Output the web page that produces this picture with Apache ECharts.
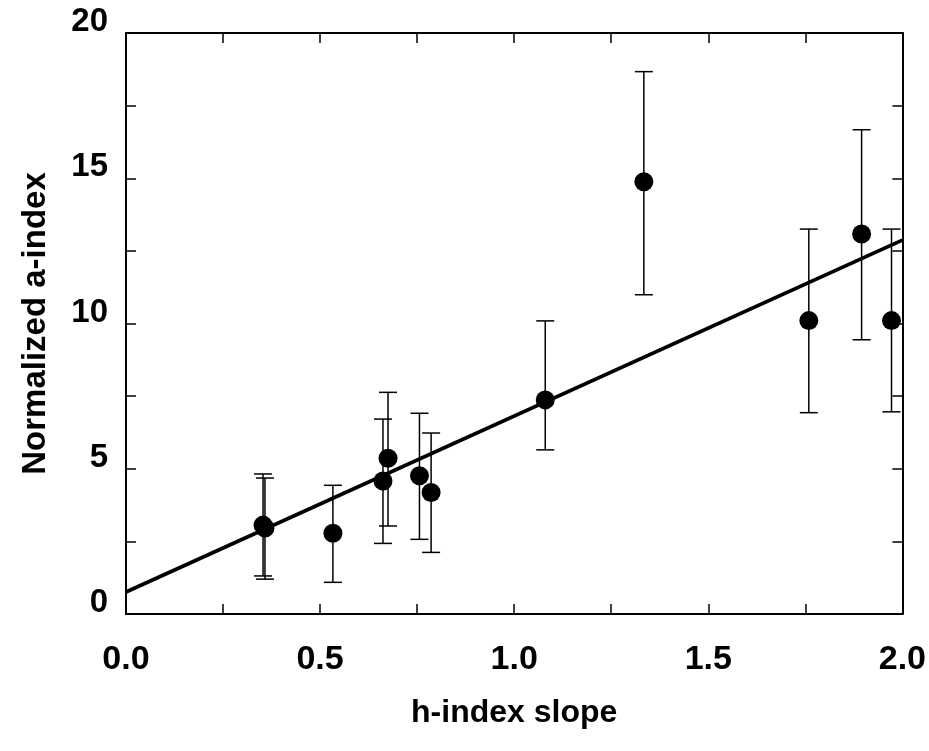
<!DOCTYPE html>
<html>
<head>
<meta charset="utf-8">
<script src="https://cdn.jsdelivr.net/npm/echarts@6/dist/echarts.min.js"></script>
<style>
html,body{margin:0;padding:0;background:#fff;}
#chart{width:929px;height:751px;}
</style>
</head>
<body>
<div id="chart"></div>
<script>
// Data
const xValues  = [0.353, 0.358, 0.533, 0.662, 0.675, 0.756, 0.786, 1.080, 1.334, 1.759, 1.895, 1.972];
const yValues  = [3.06, 2.96, 2.78, 4.58, 5.36, 4.76, 4.18, 7.37, 14.88, 10.10, 13.08, 10.10];
const errUpper = [4.82, 4.68, 4.43, 6.71, 7.63, 6.91, 6.23, 10.09, 18.67, 13.25, 16.67, 13.25];
const errLower = [1.31, 1.20, 1.09, 2.43, 3.03, 2.57, 2.12, 5.65, 10.99, 6.93, 9.44, 6.96];
const fitX = [0, 2];
const fitY = [0.76, 12.87];
const xTitle = 'h-index slope';
const yTitle = 'Normalized a-index';

const FONT = '"Liberation Sans", Arial, sans-serif';
const chart = echarts.init(document.getElementById('chart'), null, {renderer: 'canvas'});

const points = xValues.map((x, i) => [x, yValues[i]]);
const bars = xValues.map((x, i) => [x, errLower[i], errUpper[i]]);
const fitLine = fitX.map((x, i) => [x, fitY[i]]);

const axisLineStyle = {color: '#000', width: 2};
const tickStyle = {show: true, inside: true, length: 10, lineStyle: {color: '#000', width: 1.5}};

chart.setOption({
  animation: false,
  backgroundColor: '#fff',
  grid: {left: 126, right: 23, top: 33, bottom: 137, containLabel: false},
  xAxis: [{
    type: 'value', min: 0, max: 2, interval: 0.25,
    name: xTitle, nameLocation: 'middle', nameGap: 83,
    nameTextStyle: {fontFamily: FONT, fontWeight: 'bold', fontSize: 32, color: '#000', lineHeight: 32},
    axisLine: {show: true, onZero: false, lineStyle: axisLineStyle},
    axisTick: tickStyle,
    splitLine: {show: false},
    axisLabel: {
      margin: 29, fontFamily: FONT, fontWeight: 'bold', fontSize: 34, color: '#000', lineHeight: 34,
      formatter: v => (Math.abs(v * 2 - Math.round(v * 2)) < 1e-6 ? v.toFixed(1) : '')
    }
  }, {
    type: 'value', min: 0, max: 2, interval: 0.25, position: 'top',
    axisLine: {show: true, onZero: false, lineStyle: axisLineStyle},
    axisTick: tickStyle, axisLabel: {show: false}, splitLine: {show: false}
  }],
  yAxis: [{
    type: 'value', min: 0, max: 20, interval: 2.5,
    name: yTitle, nameLocation: 'middle', nameGap: 74, nameRotate: 90,
    nameTextStyle: {fontFamily: FONT, fontWeight: 'bold', fontSize: 33, color: '#000', lineHeight: 33},
    axisLine: {show: true, onZero: false, lineStyle: axisLineStyle},
    axisTick: tickStyle,
    splitLine: {show: false},
    axisLabel: {
      margin: 18, fontFamily: FONT, fontWeight: 'bold', fontSize: 33, color: '#000', lineHeight: 22,
      verticalAlign: 'bottom',
      formatter: v => (v % 5 === 0 ? String(v) : '')
    }
  }, {
    type: 'value', min: 0, max: 20, interval: 2.5, position: 'right',
    axisLine: {show: true, onZero: false, lineStyle: axisLineStyle},
    axisTick: tickStyle, axisLabel: {show: false}, splitLine: {show: false}
  }],
  series: [
    {
      type: 'line', data: fitLine, xAxisIndex: 0, yAxisIndex: 0,
      showSymbol: false, symbol: 'none',
      lineStyle: {color: '#000', width: 3.8}, z: 3, silent: true
    },
    {
      type: 'custom', data: bars, xAxisIndex: 0, yAxisIndex: 0, z: 2, silent: true,
      renderItem: function (params, api) {
        const x = api.value(0);
        const lo = api.coord([x, api.value(1)]);
        const hi = api.coord([x, api.value(2)]);
        const half = 9;
        const style = {stroke: '#000', lineWidth: 1.5, fill: null};
        return {
          type: 'group',
          children: [
            {type: 'line', shape: {x1: hi[0], y1: hi[1], x2: lo[0], y2: lo[1]}, style: style},
            {type: 'line', shape: {x1: hi[0] - half, y1: hi[1], x2: hi[0] + half, y2: hi[1]}, style: style},
            {type: 'line', shape: {x1: lo[0] - half, y1: lo[1], x2: lo[0] + half, y2: lo[1]}, style: style}
          ]
        };
      }
    },
    {
      type: 'scatter', data: points, xAxisIndex: 0, yAxisIndex: 0,
      symbol: 'circle', symbolSize: 19,
      itemStyle: {color: '#000', opacity: 1}, z: 4, silent: true
    }
  ]
});
</script>
</body>
</html>
